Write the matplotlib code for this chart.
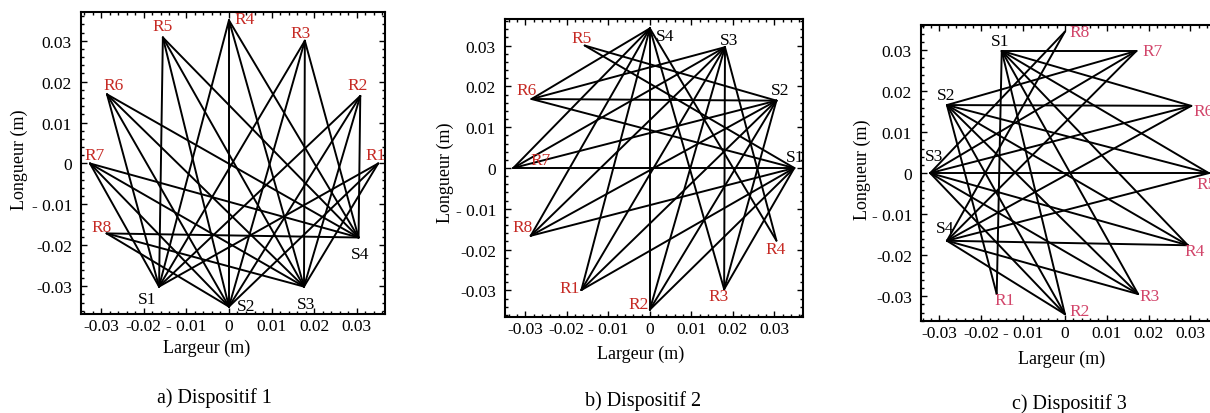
import matplotlib
matplotlib.use("Agg")
import matplotlib.pyplot as plt
from matplotlib.ticker import FixedLocator, FixedFormatter, MultipleLocator

plt.rcParams['font.family'] = ['Liberation Serif', 'DejaVu Serif']

# ---------------- data ----------------
names = ["R1", "R2", "R3", "R4", "R5", "R6", "R7", "R8", "S1", "S2", "S3", "S4"]

# Dispositif 1
x_a = [0.0350, 0.0308, 0.0178, 0.0, -0.0155, -0.0286, -0.0326, -0.0287, -0.0164, 0.0, 0.0176, 0.0304]
y_a = [0.0, 0.0165, 0.0300, 0.0350, 0.0308, 0.0169, 0.0, -0.0171, -0.0301, -0.0350, -0.0301, -0.0181]
skip_a = [("S4", "R1"), ("S1", "R8")]

# Dispositif 2
x_b = [-0.0165, 0.0, 0.0179, 0.0305, -0.0157, -0.0285, -0.0329, -0.0287, 0.0348, 0.0305, 0.0181, 0.0]
y_b = [-0.0299, -0.0347, -0.0297, -0.0178, 0.0300, 0.0169, 0.0, -0.0166, 0.0, 0.0165, 0.0296, 0.0342]
skip_b = [("S4", "R5"), ("S3", "R5"), ("S1", "R4"), ("S2", "R4")]

# Dispositif 3
x_c = [-0.0163, 0.0, 0.0175, 0.0294, 0.0344, 0.0302, 0.0171, 0.0, -0.0151, -0.0282, -0.0322, -0.0282]
y_c = [-0.0295, -0.0344, -0.0295, -0.0176, 0.0, 0.0164, 0.0298, 0.0345, 0.0298, 0.0166, 0.0, -0.0165]
skip_c = [("S3", "R1"), ("S4", "R1"), ("S1", "R8"), ("S2", "R8")]

xtick_vals = [-0.03, -0.02, -0.01, 0, 0.01, 0.02, 0.03]
xtick_labels = ["-0.03", "-0.02", "- 0.01", "0", "0.01", "0.02", "0.03"]
ytick_vals = [0.03, 0.02, 0.01, 0, -0.01, -0.02, -0.03]
ytick_labels = ["0.03", "0.02", "0.01", "0", "- 0.01", "-0.02", "-0.03"]
captions = ["a) Dispositif 1", "b) Dispositif 2", "c) Dispositif 3"]

# ---------------- layout / style ----------------
W, H = 1210, 414
fig = plt.figure(figsize=(W / 100, H / 100), dpi=100)

def frac(l, t, r, b):
    return [l / W, 1 - b / H, (r - l) / W, (b - t) / H]

panels = [
    dict(x=x_a, y=y_a, skip=skip_a, rect=frac(81, 12.7, 385, 315),
         xlim=(-0.0347, 0.0366), ylim=(-0.0368, 0.0371), rcol="#c62a24",
         off={"R1": (-3, 8), "R2": (-3, 11), "R3": (-4, 8), "R4": (16, 1), "R5": (0, 11),
              "R6": (7, 9), "R7": (5, 8), "R8": (-5, 6), "S1": (-12, -12), "S2": (17, 1),
              "S3": (2, -17), "S4": (2, -16)},
         cap=(214, 398), xl=(207, 348), yl=(19, 160)),
    dict(x=x_b, y=y_b, skip=skip_b, rect=frac(505, 20, 803, 318),
         xlim=(-0.0349, 0.0369), ylim=(-0.0365, 0.0365), rcol="#c62a24",
         off={"S4": (15, -8), "S3": (4, 7), "S2": (4, 11), "S1": (1, 11), "R5": (-3, 8),
              "R6": (-5, 9), "R7": (27, 8), "R8": (-8, 9), "R1": (-12, 2), "R2": (-11, 6),
              "R3": (-6, -7), "R4": (-1, -8)},
         cap=(643, 401), xl=(641, 354), yl=(445, 173)),
    dict(x=x_c, y=y_c, skip=skip_c, rect=frac(921, 25.7, 1218, 321.7),
         xlim=(-0.0344, 0.0366), ylim=(-0.0360, 0.0362), rcol="#d2456a",
         off={"S1": (-2, 10), "S2": (-1, 10), "S3": (4, 17), "S4": (-2, 13), "R1": (8, -6),
              "R2": (15, 3), "R3": (11, -2), "R4": (7, -6), "R5": (-2, -11), "R6": (12, -5),
              "R7": (16, 0), "R8": (15, 0)},
         cap=(1069, 404), xl=(1062, 359), yl=(862, 170)),
]

for p, cap in zip(panels, captions):
    ax = fig.add_axes(p["rect"])
    pos = {n: (xx, yy) for n, xx, yy in zip(names, p["x"], p["y"])}
    sources = [n for n in names if n.startswith("S")]
    receivers = [n for n in names if n.startswith("R")]
    for s in sources:
        for r in receivers:
            if (s, r) in p["skip"]:
                continue
            ax.plot([pos[s][0], pos[r][0]], [pos[s][1], pos[r][1]],
                    color="black", lw=1.4, solid_capstyle="round")
    for n in names:
        col = p["rcol"] if n.startswith("R") else "black"
        ax.annotate(n, xy=pos[n], xytext=p["off"][n], textcoords="offset pixels",
                    ha="center", va="center", fontsize=12.5, color=col,
                    annotation_clip=False)
    ax.set_xlim(*p["xlim"])
    ax.set_ylim(*p["ylim"])
    ax.xaxis.set_major_locator(FixedLocator(xtick_vals))
    ax.xaxis.set_major_formatter(FixedFormatter(xtick_labels))
    ax.yaxis.set_major_locator(FixedLocator(ytick_vals))
    ax.yaxis.set_major_formatter(FixedFormatter(ytick_labels))
    ax.xaxis.set_minor_locator(MultipleLocator(0.002))
    ax.yaxis.set_minor_locator(MultipleLocator(0.002))
    ax.tick_params(which="both", direction="in", top=True, right=True, width=1.0)
    ax.tick_params(which="major", length=4)
    ax.tick_params(which="minor", length=2)
    ax.tick_params(axis="x", which="major", labelsize=12.5, pad=3)
    ax.tick_params(axis="y", which="major", labelsize=12.5, pad=6.5)
    for sp in ax.spines.values():
        sp.set_linewidth(1.5)
    fig.text(p["xl"][0] / W, 1 - p["xl"][1] / H, "Largeur (m)", ha="center", va="center", fontsize=13)
    fig.text(p["yl"][0] / W, 1 - p["yl"][1] / H, "Longueur (m)", ha="center", va="center",
             fontsize=13, rotation=90)
    fig.text(p["cap"][0] / W, 1 - p["cap"][1] / H, cap, ha="center", va="center", fontsize=14.5)

fig.savefig("out.png", dpi=100)
